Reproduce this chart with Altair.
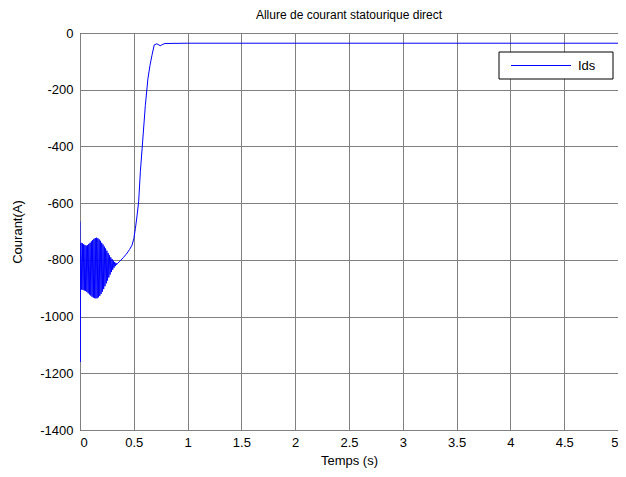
import altair as alt
import pandas as pd

t = [0.0, 0.002, 0.004,
     0.010, 0.016, 0.022, 0.028, 0.034, 0.040, 0.046, 0.052, 0.058, 0.064,
     0.070, 0.076, 0.082, 0.088, 0.094, 0.100, 0.106, 0.112, 0.118, 0.124,
     0.130, 0.136, 0.142, 0.148, 0.154, 0.160, 0.166, 0.172, 0.178, 0.184,
     0.190, 0.196, 0.202, 0.208, 0.214, 0.220, 0.226, 0.232, 0.238, 0.244,
     0.250, 0.256, 0.262, 0.268, 0.274, 0.280, 0.286, 0.292, 0.298, 0.304,
     0.310, 0.316, 0.322, 0.328, 0.334, 0.340,
     0.35, 0.37, 0.40, 0.43, 0.46, 0.484, 0.50, 0.515, 0.53, 0.545, 0.561,
     0.582, 0.607, 0.631, 0.65, 0.668, 0.69, 0.715, 0.745, 0.77, 0.79, 1.0, 5.0]
ids = [-665, -1160, -760,
       -740, -905, -742, -906, -745, -908, -748, -910, -750, -913,
       -748, -918, -744, -922, -740, -926, -735, -930, -730, -933,
       -726, -935, -723, -936, -722, -935, -724, -932, -728, -927,
       -733, -920, -740, -912, -746, -903, -753, -893, -760, -883,
       -768, -873, -776, -862, -784, -852, -791, -843, -797, -835,
       -803, -828, -808, -822, -811, -817,
       -812, -805, -793, -780, -764, -748, -725, -689, -645, -595, -489,
       -384, -256, -162, -115, -80, -42, -38, -45, -40, -37, -36, -36]

x_ticks = [0, 0.5, 1, 1.5, 2, 2.5, 3, 3.5, 4, 4.5, 5]
y_ticks = [0, -200, -400, -600, -800, -1000, -1200, -1400]
series_name = ["Ids"]

df = pd.DataFrame({"t": t, "v": ids, "o": list(range(len(t)))})
leg = pd.DataFrame({"s": series_name})

font = "Liberation Sans"
blue = "#0000ff"

line = alt.Chart(df).mark_line(strokeWidth=1, clip=True, color=blue).encode(
    x=alt.X("t:Q", scale=alt.Scale(domain=[0, 5], nice=False),
            axis=alt.Axis(values=x_ticks, title="Temps (s)",
                          labelExpr="replace(format(datum.value, '~g'), '\u2212', '-')",
                          grid=True, gridColor="#808080", gridOpacity=1, ticks=False,
                          domain=False, labelPadding=6, titlePadding=5)),
    y=alt.Y("v:Q", scale=alt.Scale(domain=[-1400, 0], nice=False),
            axis=alt.Axis(values=y_ticks, title="Courant(A)",
                          labelExpr="replace(format(datum.value, 'd'), '\u2212', '-')",
                          grid=True, gridColor="#808080", gridOpacity=1, ticks=False,
                          domain=False, labelPadding=7, titlePadding=15)),
    order="o:Q",
)

leg_box = alt.Chart(leg).mark_rect(fill="white", stroke="black", strokeWidth=1).encode(
    x=alt.value(419), x2=alt.value(533), y=alt.value(19), y2=alt.value(46))
leg_line = alt.Chart(leg).mark_rule(color=blue, strokeWidth=1).encode(
    x=alt.value(431), x2=alt.value(491), y=alt.value(32.5))
leg_text = alt.Chart(leg).mark_text(align="left", baseline="middle", fontSize=13,
                                    font=font, color="black").encode(
    x=alt.value(498), y=alt.value(33), text="s:N")

chart = alt.layer(line, leg_box, leg_line, leg_text).properties(
    width=538, height=397,
    title=alt.TitleParams("Allure de courant statourique direct", fontSize=12,
                          fontWeight="normal", font=font, offset=5, color="black"),
    autosize=alt.AutoSizeParams(type="none"),
    padding={"left": 72, "top": 25, "right": 0, "bottom": 39},
).configure_view(stroke="black", strokeWidth=1).configure_axis(
    labelFont=font, titleFont=font, labelFontSize=13, titleFontSize=13,
    labelColor="black", titleColor="black", titleFontWeight="normal"
)

chart.save("out.html", embed_options={"renderer": "svg", "actions": False})
